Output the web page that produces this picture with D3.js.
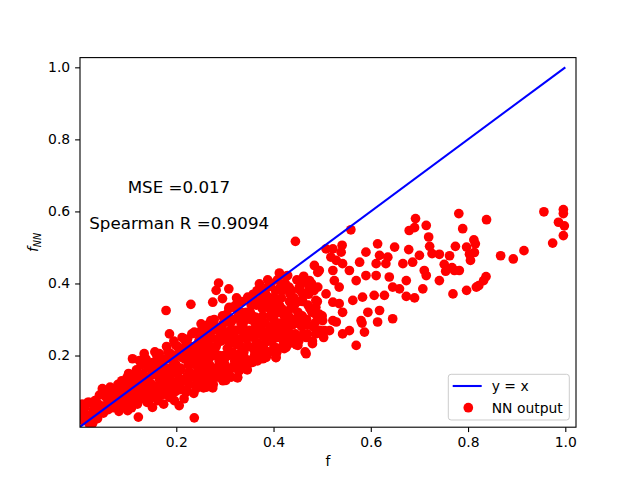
<!DOCTYPE html>
<html>
<head>
<meta charset="utf-8">
<script src="https://cdn.jsdelivr.net/npm/d3@7"></script>
<style>
    html, body { margin: 0; background: #fff; overflow: hidden; }
    svg { display: block; font-family: "DejaVu Sans", sans-serif; }
</style>
</head>
<body>
<div id="chart"></div>
<script>
// dense band of points near the origin as [f, fNN]
const bandPoints = [
    [0.003,0.045],[0.008,0.02],[0.012,0.055],[0.015,0.035],[0.006,0.065],[0.018,0.07],[0.02,0.012],[0.004,0.03],
    [0.03,0.05],[0.033,0.075],[0.036,0.04],[0.04,0.065],[0.042,0.09],[0.038,0.025],
    [0.05,0.04],[0.052,0.06],[0.055,0.085],[0.058,0.1],[0.06,0.05],[0.062,0.075],[0.064,0.112],
    [0.07,0.055],[0.072,0.08],[0.075,0.1],[0.078,0.065],[0.08,0.12],[0.082,0.045],[0.085,0.09],[0.088,0.13],
    [0.09,0.06],[0.093,0.08],[0.095,0.105],[0.098,0.13],[0.1,0.07],[0.102,0.15],[0.105,0.095],[0.108,0.055],
    [0.11,0.12],[0.112,0.14],[0.115,0.085],[0.118,0.16],[0.12,0.065],[0.122,0.105],[0.125,0.13],[0.128,0.175],
    [0.13,0.08],[0.132,0.15],[0.135,0.11],[0.138,0.19],[0.14,0.07],[0.142,0.135],[0.145,0.165],[0.148,0.095],
    [0.15,0.12],[0.152,0.18],[0.155,0.085],[0.158,0.15],[0.16,0.2],[0.162,0.1],[0.165,0.135],[0.168,0.17],[0.156,0.21],
    [0.17,0.09],[0.172,0.16],[0.175,0.12],[0.178,0.19],[0.18,0.225],[0.182,0.105],[0.185,0.145],[0.188,0.205],[0.174,0.065],
    [0.19,0.13],[0.192,0.17],[0.195,0.24],[0.198,0.1],[0.2,0.2],[0.202,0.15],[0.205,0.22],[0.208,0.12],[0.196,0.075],
    [0.21,0.16],[0.212,0.25],[0.215,0.13],[0.218,0.19],[0.22,0.23],[0.222,0.105],[0.225,0.175],[0.228,0.21],[0.216,0.08],
    [0.23,0.14],[0.232,0.26],[0.235,0.18],[0.238,0.22],[0.24,0.12],[0.242,0.2],[0.245,0.16],[0.248,0.245],[0.236,0.095],
    [0.25,0.13],[0.252,0.27],[0.255,0.19],[0.258,0.23],[0.26,0.155],[0.262,0.21],[0.265,0.285],[0.268,0.175],[0.256,0.11],
    [0.27,0.14],[0.272,0.25],[0.275,0.2],[0.278,0.3],[0.28,0.165],[0.282,0.225],[0.285,0.27],[0.288,0.185],[0.276,0.12],
    [0.29,0.15],[0.292,0.24],[0.295,0.31],[0.298,0.2],[0.3,0.175],[0.302,0.265],[0.305,0.22],[0.308,0.33],[0.296,0.13],
    [0.31,0.16],[0.312,0.29],[0.315,0.21],[0.318,0.25],[0.32,0.185],[0.322,0.34],[0.325,0.23],[0.328,0.31],[0.326,0.14],
    [0.33,0.17],[0.332,0.27],[0.335,0.35],[0.338,0.22],[0.34,0.195],[0.342,0.3],[0.345,0.245],[0.348,0.36],[0.346,0.16],
    [0.35,0.18],[0.352,0.32],[0.355,0.26],[0.358,0.37],[0.36,0.215],[0.362,0.29],[0.365,0.34],[0.368,0.235],[0.357,0.19],
    [0.37,0.2],[0.372,0.38],[0.375,0.27],[0.378,0.31],[0.38,0.23],[0.382,0.35],[0.385,0.25],[0.388,0.39],[0.376,0.29],
    [0.39,0.21],[0.392,0.33],[0.395,0.4],[0.398,0.26],[0.4,0.3],[0.402,0.36],[0.405,0.195],[0.408,0.41],[0.396,0.24],
    [0.41,0.22],[0.412,0.34],[0.415,0.28],[0.418,0.38],[0.42,0.25],[0.422,0.31],[0.425,0.42],[0.428,0.23],[0.416,0.36],
    [0.43,0.27],[0.432,0.39],[0.435,0.33],[0.438,0.235],[0.44,0.3],[0.442,0.36],[0.445,0.26],[0.448,0.41],
    [0.45,0.32],[0.452,0.24],[0.455,0.38],[0.458,0.28],[0.46,0.35],[0.462,0.42],[0.465,0.21],[0.468,0.3],
    [0.47,0.26],[0.472,0.37],[0.475,0.33],[0.478,0.4],[0.48,0.24],[0.485,0.29],[0.49,0.35],[0.495,0.27],[0.5,0.31],
    [0.061,0.07],[0.066,0.095],[0.081,0.075],[0.084,0.108],[0.101,0.085],[0.104,0.118],[0.099,0.14],
    [0.121,0.095],[0.119,0.148],[0.141,0.1],[0.139,0.125],[0.143,0.178],[0.161,0.11],[0.159,0.16],[0.163,0.188],
    [0.181,0.135],[0.179,0.165],[0.183,0.21],[0.201,0.115],[0.199,0.175],[0.203,0.225],
    [0.221,0.14],[0.219,0.2],[0.223,0.245],[0.241,0.15],[0.239,0.175],[0.243,0.23],[0.237,0.265],
    [0.261,0.14],[0.259,0.17],[0.263,0.24],[0.257,0.26],[0.281,0.155],[0.279,0.21],[0.283,0.245],[0.277,0.29],
    [0.301,0.16],[0.299,0.19],[0.303,0.245],[0.297,0.29],[0.304,0.315],
    [0.321,0.2],[0.319,0.235],[0.323,0.27],[0.317,0.3],[0.324,0.33],
    [0.341,0.18],[0.339,0.21],[0.343,0.26],[0.337,0.285],[0.344,0.32],
    [0.361,0.2],[0.359,0.25],[0.363,0.275],[0.357,0.31],[0.364,0.35],[0.366,0.38],
    [0.381,0.215],[0.379,0.255],[0.383,0.29],[0.377,0.33],[0.384,0.37],
    [0.401,0.225],[0.399,0.28],[0.403,0.315],[0.397,0.345],[0.404,0.38],
    [0.421,0.235],[0.419,0.265],[0.423,0.295],[0.417,0.33],[0.424,0.4],
    [0.441,0.25],[0.439,0.285],[0.443,0.34],[0.437,0.38],
    [0.461,0.26],[0.459,0.31],[0.463,0.37],[0.457,0.4],
    [0.481,0.28],[0.479,0.32],[0.483,0.38],
    [0.01,0.03],[0.025,0.035],[0.045,0.055],[0.065,0.06],[0.068,0.085],[0.086,0.06],[0.091,0.1],[0.106,0.075],
    [0.111,0.1],[0.126,0.085],[0.127,0.115],[0.133,0.095],[0.146,0.08],[0.147,0.11],[0.149,0.145],[0.153,0.1],
    [0.166,0.095],[0.167,0.12],[0.169,0.15],[0.176,0.105],[0.187,0.1],[0.189,0.12],[0.191,0.15],[0.193,0.19],
    [0.206,0.105],[0.207,0.135],[0.209,0.165],[0.211,0.195],[0.226,0.12],[0.227,0.155],[0.229,0.19],[0.231,0.225],
    [0.246,0.135],[0.247,0.18],[0.249,0.21],[0.251,0.25],[0.266,0.13],[0.267,0.155],[0.269,0.195],[0.271,0.225],
    [0.273,0.27],[0.286,0.14],[0.287,0.17],[0.289,0.2],[0.291,0.26],[0.293,0.28],[0.306,0.145],[0.307,0.2],
    [0.309,0.235],[0.311,0.27],[0.313,0.3],[0.327,0.16],[0.329,0.19],[0.331,0.245],[0.333,0.29],[0.334,0.32],
    [0.347,0.175],[0.349,0.225],[0.351,0.27],[0.353,0.3],[0.354,0.34],[0.367,0.185],[0.369,0.22],[0.371,0.26],
    [0.373,0.3],[0.374,0.355],[0.387,0.205],[0.389,0.24],[0.391,0.27],[0.393,0.31],[0.394,0.36],[0.407,0.21],
    [0.409,0.25],[0.411,0.29],[0.413,0.32],[0.414,0.39],[0.427,0.25],[0.429,0.28],[0.431,0.31],[0.433,0.35],
    [0.434,0.37],[0.447,0.23],[0.449,0.3],[0.451,0.35],[0.453,0.39],[0.467,0.25],[0.469,0.285],[0.471,0.34],
    [0.473,0.39],[0.487,0.26],[0.489,0.31],[0.491,0.39],[0.497,0.3],[0.503,0.25]
];

// scattered points around and beyond the band
const spreadPoints = [
    [0.781,0.594],[0.838,0.577],[0.789,0.552],[0.956,0.599],[0.996,0.605],[0.996,0.594],[0.986,0.570],[0.998,0.560],[0.996,0.533],[0.974,0.512],
    [0.812,0.521],[0.815,0.510],[0.774,0.503],[0.797,0.501],[0.813,0.486],[0.803,0.481],[0.805,0.464],[0.867,0.477],[0.893,0.468],[0.915,0.491],
    [0.741,0.481],[0.762,0.477],[0.751,0.453],[0.767,0.444],[0.754,0.434],[0.782,0.436],[0.772,0.436],[0.741,0.408],[0.837,0.419],[0.832,0.408],
    [0.822,0.394],[0.817,0.390],[0.797,0.381],[0.769,0.371],
    [0.559,0.549],[0.679,0.547],[0.690,0.555],[0.714,0.561],[0.692,0.580],
    [0.614,0.510],[0.649,0.501],[0.678,0.494],[0.721,0.503],[0.726,0.483],[0.719,0.529],
    [0.590,0.487],[0.618,0.478],[0.635,0.473],[0.539,0.487],[0.522,0.496],[0.508,0.496],[0.541,0.506],
    [0.542,0.455],[0.577,0.459],[0.611,0.455],[0.631,0.455],[0.666,0.455],[0.686,0.459],[0.700,0.478],[0.710,0.436],[0.714,0.422],
    [0.707,0.385],[0.673,0.408],[0.638,0.418],[0.611,0.422],[0.590,0.422],[0.645,0.390],[0.659,0.385],[0.607,0.367],[0.628,0.367],
    [0.673,0.364],[0.690,0.360],[0.583,0.362],
    [0.618,0.325],[0.645,0.302],[0.614,0.293],[0.556,0.269],[0.542,0.260],[0.587,0.265],[0.580,0.297],[0.570,0.228],[0.505,0.269],
    [0.480,0.233],[0.467,0.205],[0.542,0.320],[0.522,0.297],[0.494,0.315],
    [0.570,0.408],[0.556,0.436],[0.522,0.436],[0.494,0.436],[0.474,0.408],[0.535,0.390],[0.508,0.371],[0.563,0.353],[0.535,0.344],
    [0.487,0.353],[0.467,0.371],[0.582,0.290],[0.529,0.293],[0.515,0.269],[0.594,0.320],
    [0.326,0.138],[0.357,0.181],[0.378,0.191],[0.405,0.194],[0.422,0.219],[0.450,0.242],[0.313,0.140],[0.330,0.158],[0.316,0.168],
    [0.179,0.325],[0.230,0.342],[0.110,0.191],[0.186,0.260],[0.122,0.029],[0.237,0.027],[0.028,0.012],[0.007,0.043],[0.048,0.108],
    [0.062,0.103],[0.103,0.131],[0.021,0.070],[0.206,0.061],[0.151,0.056],[0.275,0.110],[0.241,0.108],[0.134,0.205],[0.165,0.205],
    [0.251,0.288],[0.275,0.348],[0.309,0.334],[0.268,0.279],[0.199,0.228],[0.141,0.168],[0.124,0.186],[0.090,0.121],[0.076,0.056],
    [0.100,0.047],[0.162,0.075],[0.186,0.084],[0.220,0.098],[0.275,0.140],[0.302,0.131],[0.295,0.172],[0.330,0.205],
    [0.445,0.517],[0.287,0.401],[0.282,0.381],[0.308,0.385],[0.295,0.358],[0.324,0.360],[0.347,0.362],[0.271,0.297],[0.216,0.246],
    [0.371,0.399],[0.388,0.410],[0.412,0.429],[0.429,0.422],[0.467,0.408],[0.484,0.450],[0.491,0.431],[0.518,0.473],[0.529,0.464],
    [0.525,0.408],[0.522,0.348],[0.501,0.297],[0.450,0.228],[0.426,0.223],[0.405,0.204],[0.364,0.232],[0.323,0.269],[0.340,0.297],
    [0.364,0.306],[0.405,0.334],[0.439,0.353],[0.460,0.371],[0.357,0.344],[0.385,0.362],[0.316,0.334],[0.426,0.316],[0.487,0.334],
    [0.453,0.288],[0.412,0.269],[0.371,0.260],[0.302,0.297],[0.247,0.242],[0.220,0.214],[0.192,0.186],[0.172,0.168],[0.275,0.223],
    [0.302,0.251],[0.336,0.223],[0.385,0.195],[0.323,0.177],[0.288,0.168],[0.247,0.149],[0.213,0.131],[0.261,0.112]
];

const diagonal = [0.002, 1.0];   // y = x reference line, from min to max
const xTicks = [0.2, 0.4, 0.6, 0.8, 1.0];
const yTicks = [0.2, 0.4, 0.6, 0.8, 1.0];
const mse = 0.017;
const spearmanR = 0.9094;

const width = 640;
const height = 480;
const margin = { top: 57.6, right: 64, bottom: 52.8, left: 80 };
const innerWidth = width - margin.left - margin.right;
const innerHeight = height - margin.top - margin.bottom;
const fontSize = 13.9;
const markerRadius = 4.85; // 6pt marker plus its 1pt edge

const svg = d3.select("#chart")
    .append("svg")
        .attr("width", width)
        .attr("height", height);

const innerChart = svg.append("g")
    .attr("transform", `translate(${margin.left}, ${margin.top})`);

const xScale = d3.scaleLinear()
    .domain([0.002, 1.022])
    .range([0, innerWidth]);

const yScale = d3.scaleLinear()
    .domain([0.001, 1.027])
    .range([innerHeight, 0]);

// clip marks to the axes box like matplotlib does
svg.append("defs")
    .append("clipPath")
        .attr("id", "plot-clip")
    .append("rect")
        .attr("width", innerWidth)
        .attr("height", innerHeight);

const plotArea = innerChart.append("g")
    .attr("clip-path", "url(#plot-clip)");

const allPoints = bandPoints.concat(spreadPoints);

plotArea.selectAll("circle")
    .data(allPoints)
    .join("circle")
        .attr("cx", d => xScale(d[0]))
        .attr("cy", d => yScale(d[1]))
        .attr("r", markerRadius)
        .attr("fill", "#ff0000");

plotArea.append("line")
    .attr("x1", xScale(diagonal[0]))
    .attr("y1", yScale(diagonal[0]))
    .attr("x2", xScale(diagonal[1]))
    .attr("y2", yScale(diagonal[1]))
    .attr("stroke", "#0000ff")
    .attr("stroke-width", 2.08);

// axes
const xAxis = d3.axisBottom(xScale)
    .tickValues(xTicks)
    .tickFormat(d3.format(".1f"))
    .tickSize(4.9)
    .tickPadding(4.9);

const yAxis = d3.axisLeft(yScale)
    .tickValues(yTicks)
    .tickFormat(d3.format(".1f"))
    .tickSize(4.9)
    .tickPadding(4.9);

const styleAxis = g => {
    g.select(".domain").remove();
    g.selectAll(".tick line")
        .attr("stroke", "#000")
        .attr("stroke-width", 1.1);
    g.selectAll(".tick text")
        .attr("fill", "#000")
        .style("font-size", `${fontSize}px`)
        .style("font-family", "DejaVu Sans");
};

innerChart.append("g")
    .attr("transform", `translate(0, ${innerHeight})`)
    .call(xAxis)
    .call(styleAxis);

innerChart.append("g")
    .call(yAxis)
    .call(styleAxis);

// frame around the axes
innerChart.append("rect")
    .attr("width", innerWidth)
    .attr("height", innerHeight)
    .attr("fill", "none")
    .attr("stroke", "#000")
    .attr("stroke-width", 1.1);

// axis labels
svg.append("text")
    .attr("x", margin.left + innerWidth / 2)
    .attr("y", 466)
    .attr("text-anchor", "middle")
    .style("font-size", `${fontSize}px`)
    .text("f");

const yLabel = svg.append("text")
    .attr("transform", `translate(38, ${margin.top + innerHeight / 2}) rotate(-90)`)
    .attr("text-anchor", "middle")
    .style("font-size", `${fontSize}px`)
    .style("font-style", "italic");
yLabel.append("tspan").text("f");
yLabel.append("tspan")
    .attr("dy", 2.5)
    .style("font-size", "9.7px")
    .text("NN");

// stats annotations
innerChart.append("text")
    .attr("x", xScale(0.1))
    .attr("y", yScale(0.65))
    .style("font-size", "16.7px")
    .text(`MSE =${mse}`);

innerChart.append("text")
    .attr("x", xScale(0.021))
    .attr("y", yScale(0.55))
    .style("font-size", "16.7px")
    .text(`Spearman R =${spearmanR}`);

// legend
const legend = svg.append("g")
    .attr("transform", "translate(448.3, 374.3)");

legend.append("rect")
    .attr("width", 121)
    .attr("height", 45.7)
    .attr("rx", 2.8)
    .attr("fill", "#fff")
    .attr("fill-opacity", 0.8)
    .attr("stroke", "#cccccc")
    .attr("stroke-width", 1);

legend.append("line")
    .attr("x1", 4.4)
    .attr("x2", 33.4)
    .attr("y1", 11.7)
    .attr("y2", 11.7)
    .attr("stroke", "#0000ff")
    .attr("stroke-width", 2.08);

legend.append("circle")
    .attr("cx", 20)
    .attr("cy", 33.4)
    .attr("r", markerRadius)
    .attr("fill", "#ff0000");

legend.append("text")
    .attr("x", 43.4)
    .attr("y", 16.6)
    .style("font-size", `${fontSize}px`)
    .text("y = x");

legend.append("text")
    .attr("x", 43.4)
    .attr("y", 38.3)
    .style("font-size", `${fontSize}px`)
    .text("NN output");
</script>
</body>
</html>
